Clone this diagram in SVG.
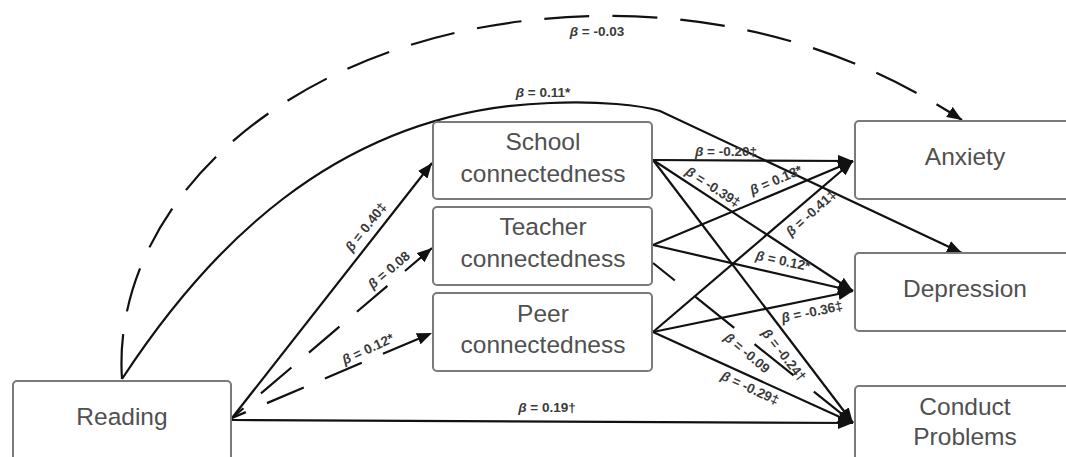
<svg xmlns="http://www.w3.org/2000/svg" width="1066" height="457" viewBox="0 0 1066 457">
<style>
.box{fill:#fff;stroke:#7a7a7a;stroke-width:2}
.nt{font-family:"Liberation Sans",Arial,sans-serif;font-size:24.5px;fill:#505050;text-anchor:middle}
.ln{fill:none;stroke:#111;stroke-width:2.2}
.dA{stroke-dasharray:45 23}
.dB{stroke-dasharray:40 23}
.dC{stroke-dasharray:50 26}
.lb{font-family:"Liberation Sans",Arial,sans-serif;font-size:13.5px;font-weight:bold;fill:#3a3a3a;text-anchor:middle}
.b{font-style:italic}
</style>
<defs>
<marker id="ah" markerUnits="userSpaceOnUse" markerWidth="16" markerHeight="12" refX="15" refY="6" orient="auto">
<path d="M0,0 L15,6 L0,12 z" fill="#111"/>
</marker>
</defs>
<g id="connectors">
<path class="ln dA" d="M122,379 C110,200 300,20 600,16 C780,14 900,80 962,120" marker-end="url(#ah)"/>
<path class="ln" d="M122,379 C200,260 330,110 550,103 C600,101 640,105 660,111 L962,253" marker-end="url(#ah)"/>
<path class="ln" d="M232,418 L432,163" marker-end="url(#ah)"/>
<path class="ln dB" d="M232,418 L432,248" stroke-dashoffset="25" marker-end="url(#ah)"/>
<path class="ln dB" d="M232,418 L432,333" stroke-dashoffset="25" marker-end="url(#ah)"/>
<path class="ln" d="M232,420 L853,423" marker-end="url(#ah)"/>
<path class="ln" d="M653,160 L853,161" marker-end="url(#ah)"/>
<path class="ln" d="M653,160 L853,291" marker-end="url(#ah)"/>
<path class="ln" d="M653,160 L853,423" marker-end="url(#ah)"/>
<path class="ln" d="M653,245 L853,161" marker-end="url(#ah)"/>
<path class="ln" d="M653,245 L853,291" marker-end="url(#ah)"/>
<path class="ln dC" d="M653,263 L853,423" stroke-dashoffset="22" marker-end="url(#ah)"/>
<path class="ln" d="M653,332 L853,161" marker-end="url(#ah)"/>
<path class="ln" d="M653,332 L853,291" marker-end="url(#ah)"/>
<path class="ln" d="M653,332 L853,423" marker-end="url(#ah)"/>
</g>
<g id="labels">
<text class="lb" x="597" y="36"><tspan class="b">β</tspan> = -0.03</text>
<text class="lb" x="543" y="97"><tspan class="b">β</tspan> = 0.11*</text>
<text class="lb" x="726" y="156"><tspan class="b">β</tspan> = -0.20‡</text>
<text class="lb" transform="translate(713,187) rotate(33)" dy="4.5"><tspan class="b">β</tspan> = -0.39‡</text>
<text class="lb" transform="translate(776,180) rotate(-23)" dy="4.5"><tspan class="b">β</tspan> = 0.13*</text>
<text class="lb" transform="translate(811,213) rotate(-42)" dy="4.5"><tspan class="b">β</tspan> = -0.41‡</text>
<text class="lb" transform="translate(783,261) rotate(12)" dy="4.5"><tspan class="b">β</tspan> = 0.12*</text>
<text class="lb" transform="translate(812,312) rotate(-12)" dy="4.5"><tspan class="b">β</tspan> = -0.36‡</text>
<text class="lb" transform="translate(784,355) rotate(52)" dy="4.5"><tspan class="b">β</tspan> = -0.24†</text>
<text class="lb" transform="translate(747,353) rotate(40)" dy="4.5"><tspan class="b">β</tspan> = -0.09</text>
<text class="lb" transform="translate(750,388) rotate(25)" dy="4.5"><tspan class="b">β</tspan> = -0.29‡</text>
<text class="lb" x="547" y="412"><tspan class="b">β</tspan> = 0.19†</text>
<text class="lb" transform="translate(366,227) rotate(-52)" dy="4.5"><tspan class="b">β</tspan> = 0.40‡</text>
<text class="lb" transform="translate(389,270) rotate(-40)" dy="4.5"><tspan class="b">β</tspan> = 0.08</text>
<text class="lb" transform="translate(368,349) rotate(-25)" dy="4.5"><tspan class="b">β</tspan> = 0.12*</text>
</g>
<g id="reading">
<rect class="box" x="13" y="381" width="218" height="100" rx="4"/>
<text class="nt" x="122" y="425">Reading</text>
</g>
<g id="school">
<rect class="box" x="433" y="122" width="219" height="77" rx="4"/>
<text class="nt" x="543" y="150">School</text>
<text class="nt" x="543" y="182">connectedness</text>
</g>
<g id="teacher">
<rect class="box" x="433" y="207" width="219" height="78" rx="4"/>
<text class="nt" x="543" y="235">Teacher</text>
<text class="nt" x="543" y="267">connectedness</text>
</g>
<g id="peer">
<rect class="box" x="433" y="293" width="219" height="78" rx="4"/>
<text class="nt" x="543" y="322">Peer</text>
<text class="nt" x="543" y="353">connectedness</text>
</g>
<g id="anxiety">
<rect class="box" x="855" y="121" width="222" height="78" rx="4"/>
<text class="nt" x="965" y="165">Anxiety</text>
</g>
<g id="depression">
<rect class="box" x="855" y="253" width="222" height="78" rx="4"/>
<text class="nt" x="965" y="297">Depression</text>
</g>
<g id="conduct">
<rect class="box" x="855" y="386" width="222" height="100" rx="4"/>
<text class="nt" x="965" y="415">Conduct</text>
<text class="nt" x="965" y="445">Problems</text>
</g>
</svg>
